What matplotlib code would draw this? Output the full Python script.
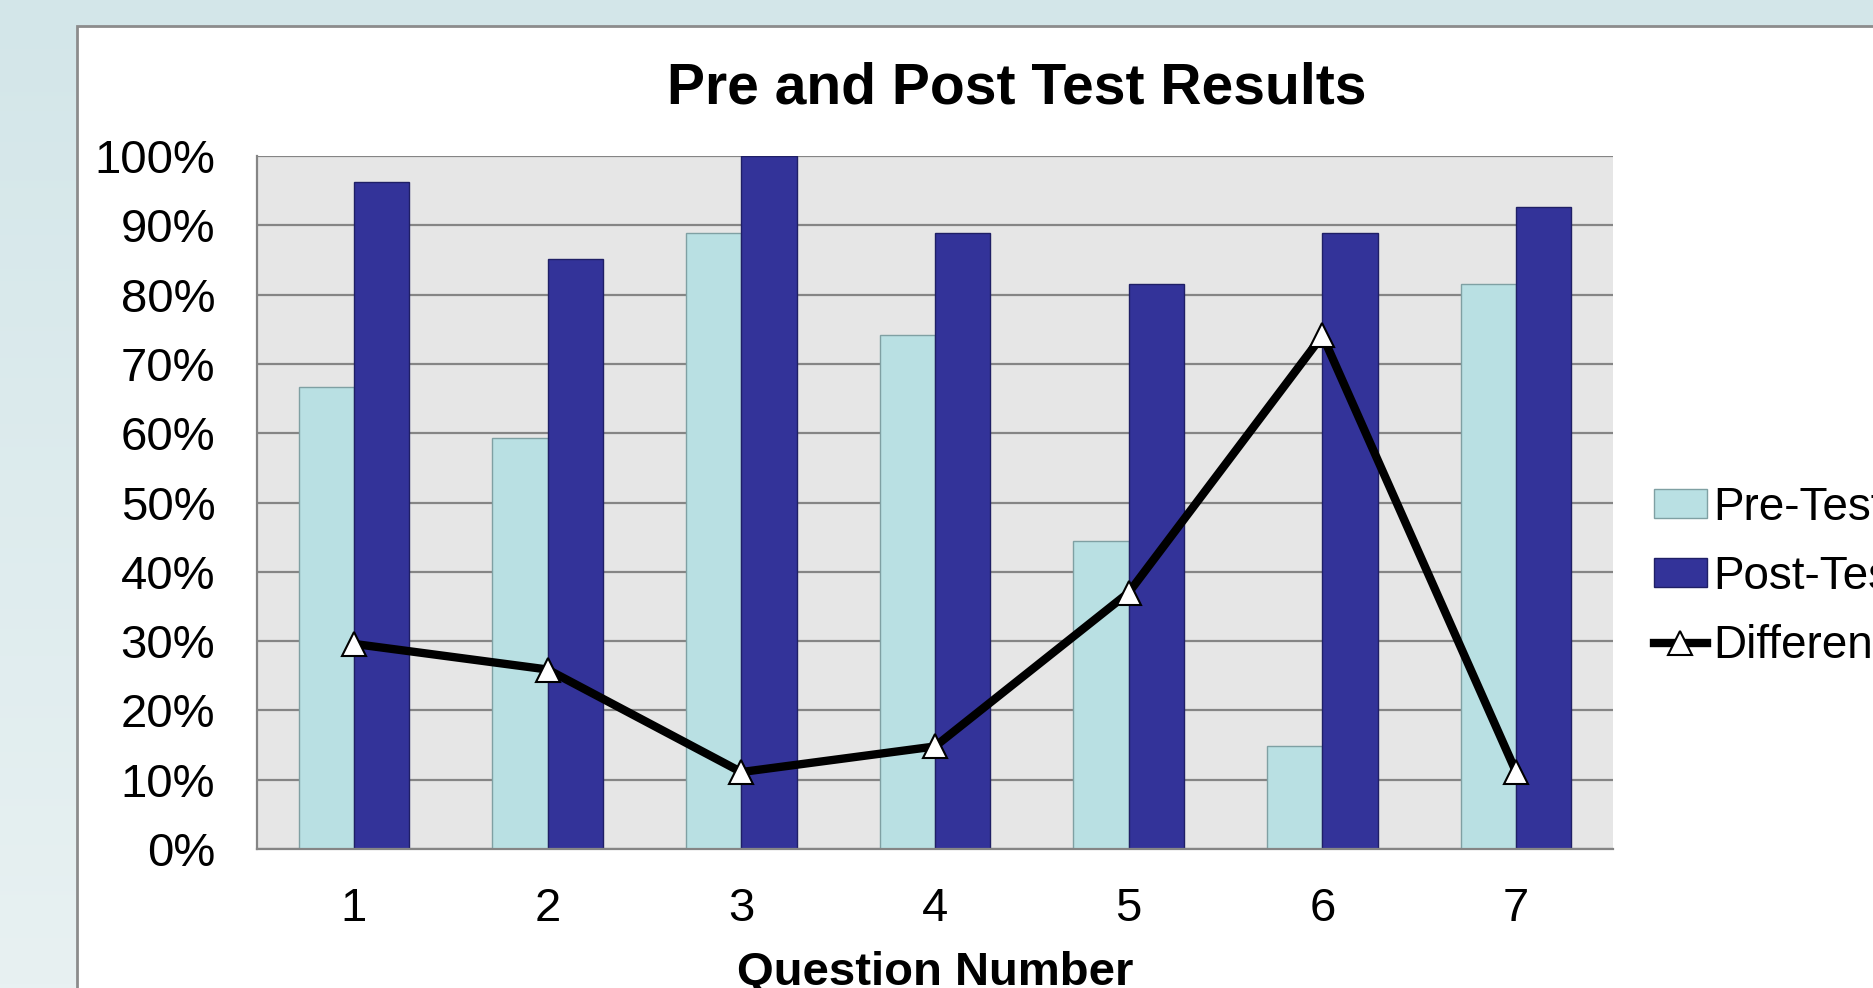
import numpy as np
import matplotlib
matplotlib.use('Agg')
import matplotlib.pyplot as plt
from matplotlib.patches import Rectangle

plt.rcParams['font.family'] = ['Liberation Sans', 'DejaVu Sans']

questions = ['1', '2', '3', '4', '5', '6', '7']
pre_test = [0.667, 0.593, 0.889, 0.741, 0.444, 0.148, 0.815]
post_test = [0.963, 0.852, 1.000, 0.889, 0.815, 0.889, 0.926]
difference = [0.296, 0.259, 0.111, 0.148, 0.370, 0.741, 0.111]
y_ticks = [0, 0.1, 0.2, 0.3, 0.4, 0.5, 0.6, 0.7, 0.8, 0.9, 1.0]

W, H = 1873, 988
fig = plt.figure(figsize=(W / 100, H / 100), dpi=100)

# slide background gradient
bg = fig.add_axes([0, 0, 1, 1], zorder=-10)
grad = np.linspace(0, 1, 256).reshape(-1, 1)
top = np.array([0xD3, 0xE6, 0xE9]) / 255
bot = np.array([0xE8, 0xF1, 0xF2]) / 255
img = top + (bot - top) * grad[:, :, None]
bg.imshow(img, aspect='auto', extent=[0, 1, 0, 1])
bg.set_xlim(0, 1)
bg.set_ylim(0, 1)
bg.axis('off')

# white chart box
bg.add_patch(Rectangle((77 / W, -0.05), 1.2, 1 - 26 / H + 0.05, facecolor='white',
                       edgecolor='#8C8C8C', linewidth=2, transform=bg.transAxes))

ax = fig.add_axes([257 / W, 1 - 849 / H, (1613 - 257) / W, (849 - 156) / H])
ax.set_facecolor('#E6E6E6')

x = np.arange(len(questions))
bw = 0.2857
b1 = ax.bar(x - bw / 2, pre_test, bw, color='#B9E0E3', edgecolor='#7FA0A3', linewidth=1,
            label='Pre-Test', zorder=3)
b2 = ax.bar(x + bw / 2, post_test, bw, color='#333399', edgecolor='#1F1F66', linewidth=1,
            label='Post-Test', zorder=3)
ln, = ax.plot(x, difference, color='black', linewidth=6, marker='^', markersize=17,
              markerfacecolor='white', markeredgecolor='black', markeredgewidth=1.5,
              label='Difference', zorder=4)

ax.set_xlim(-0.5, len(questions) - 0.5)
ax.set_ylim(0, 1)
ax.set_yticks(y_ticks)
ax.set_yticklabels([f'{int(round(v * 100))}%' for v in y_ticks])
ax.set_xticks(x)
ax.set_xticklabels(questions)
ax.tick_params(axis='both', length=0, labelsize=34)
ax.tick_params(axis='x', pad=27)
ax.tick_params(axis='y', pad=30)
ax.grid(axis='y', color='#858585', linewidth=1.6, zorder=1)
ax.set_axisbelow(True)
for s in ['top', 'right']:
    ax.spines[s].set_visible(False)
for s in ['left', 'bottom']:
    ax.spines[s].set_color('#858585')
    ax.spines[s].set_linewidth(1.6)
    ax.spines[s].set_zorder(5)

fig.text(1017 / W, 1 - 103 / H, 'Pre and Post Test Results', ha='center', va='baseline',
         fontsize=41, fontweight='bold')
fig.text(935 / W, 1 - 985 / H, 'Question Number', ha='center', va='baseline',
         fontsize=34, fontweight='bold')

ax.legend([b1, b2, ln], ['Pre-Test', 'Post-Test', 'Difference'],
          loc='center left', bbox_to_anchor=(1654 / W, 1 - 577 / H),
          bbox_transform=fig.transFigure, frameon=False, fontsize=33,
          borderpad=0, borderaxespad=0, handlelength=1.15, handleheight=0.6,
          handletextpad=0.15, labelspacing=0.55)

fig.savefig('out.png', dpi=100)
